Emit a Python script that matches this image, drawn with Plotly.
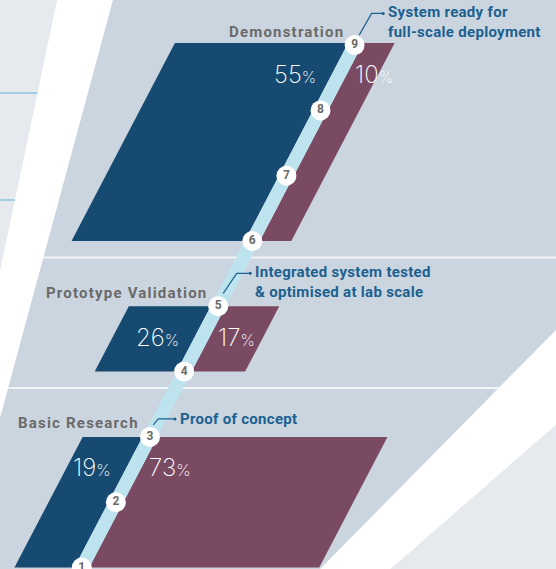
import plotly.graph_objects as go

# dane
stages = ["Basic Research", "Prototype Validation", "Demonstration"]
trl_start = [1, 4, 6]
trl_end = [3, 5, 9]
blue_pct = [19, 26, 55]
maroon_pct = [73, 17, 10]
trl_levels = [1, 2, 3, 4, 5, 6, 7, 8, 9]
milestone_trl = [3, 5, 9]
milestone_text = ["Proof of concept",
                  "Integrated system tested<br>& optimised at lab scale",
                  "System ready for<br>full-scale deployment"]

W, H = 556, 569
PANEL = "#cbd5df"
LIGHT = "#e6eaee"
BLUE = "#164a70"
MAROON = "#7a4a62"
BAND = "#bde3ef"
TXT_BLUE = "#1b6190"
GREY = "#6a6a6a"

PX_PER_PCT = 3.15
HALF_BAND = 7.5
SLOPE = 0.5222  # przesuniecie x na piksel w gore


def trl_y(k):
    return 567.5 - (k - 1) * 65.3


def band_x(y):
    return 81.8 + (567.5 - y) * SLOPE


fig = go.Figure()

# tlo
shapes = [
    dict(type="path", path="M0,0 L57,0 L0,270 Z", fillcolor=LIGHT, line_width=0, layer="below"),
    dict(type="path", path="M57,0 L113,0 L0,418 L0,270 Z", fillcolor="white", line_width=0, layer="below"),
    dict(type="path", path="M556,330 L320,569 L391,569 L556,425 Z", fillcolor="white", line_width=0, layer="below"),
    dict(type="path", path="M556,425 L391,569 L556,569 Z", fillcolor=LIGHT, line_width=0, layer="below"),
    dict(type="line", x0=0, x1=57 - 0.211 * 93, y0=93, y1=93, line=dict(color="#8dc5dc", width=1.5), layer="below"),
    dict(type="line", x0=0, x1=57 - 0.211 * 200, y0=200, y1=200, line=dict(color="#8dc5dc", width=1.5), layer="below"),
]
for k in trl_start[1:]:
    ys = trl_y(k) + 16.5
    x_left = 113 - 0.27 * ys
    x_right = min(556, 556 - (ys - 330) * 0.9874)
    shapes.append(dict(type="line", x0=x_left, x1=x_right, y0=ys, y1=ys,
                       line=dict(color="#f2f5f8", width=2), layer="below"))

annotations = []

# rownolegloboki etapow
for name, a, b, bp, mp in zip(stages, trl_start, trl_end, blue_pct, maroon_pct):
    yb, yt = trl_y(a), trl_y(b)
    if b == 9:
        yt -= 2
    wb = bp * PX_PER_PCT
    wm = mp * PX_PER_PCT
    xs_b = [band_x(yb) - HALF_BAND - wb, band_x(yb) - HALF_BAND, band_x(yt) - HALF_BAND, band_x(yt) - HALF_BAND - wb]
    xs_m = [band_x(yb) + HALF_BAND, band_x(yb) + HALF_BAND + wm, band_x(yt) + HALF_BAND + wm, band_x(yt) + HALF_BAND]
    ys = [yb, yb, yt, yt]
    fig.add_trace(go.Scatter(x=xs_b + [xs_b[0]], y=ys + [ys[0]], fill="toself", fillcolor=BLUE,
                             mode="lines", line=dict(width=0), hoverinfo="skip"))
    fig.add_trace(go.Scatter(x=xs_m + [xs_m[0]], y=ys + [ys[0]], fill="toself", fillcolor=MAROON,
                             mode="lines", line=dict(width=0), hoverinfo="skip"))

    ly = yt + 31
    pct_font = dict(family="Inter", size=24, color="white", weight=200)
    annotations.append(dict(x=band_x(ly) - HALF_BAND - 14, y=ly, xanchor="right", yanchor="middle",
                            text=f"{bp}<span style='font-size:16px'>%</span>", showarrow=False, font=pct_font))
    annotations.append(dict(x=band_x(ly) + HALF_BAND + 6, y=ly, xanchor="left", yanchor="middle",
                            text=f"{mp}<span style='font-size:16px'>%</span>", showarrow=False, font=pct_font))

    ty = trl_y(b) - 13.5
    annotations.append(dict(x=band_x(ty) - 16, y=ty, xanchor="right", yanchor="middle",
                            text=f"<span style='letter-spacing:1.2px'>{name}</span>", showarrow=False,
                            font=dict(family="Roboto", size=15, color=GREY, weight="bold")))

# pasmo TRL
y_lo, y_hi = 580, trl_y(9)
fig.add_trace(go.Scatter(
    x=[band_x(y_lo) - HALF_BAND, band_x(y_lo) + HALF_BAND, band_x(y_hi) + HALF_BAND, band_x(y_hi) - HALF_BAND, band_x(y_lo) - HALF_BAND],
    y=[y_lo, y_lo, y_hi, y_hi, y_lo], fill="toself", fillcolor=BAND, mode="lines", line=dict(width=0), hoverinfo="skip"))

# odnosniki
leader_offsets = {3: [(3.3, -12), (8.3, -18), (25, -18)],
                  5: [(5, -13), (18.5, -33), (32, -33)],
                  9: [(4.6, -10), (17, -31.7), (28.6, -31.7)]}
for k, txt in zip(milestone_trl, milestone_text):
    cx, cy = band_x(trl_y(k)), trl_y(k)
    pts = [(cx + dx, cy + dy) for dx, dy in leader_offsets[k]]
    fig.add_trace(go.Scatter(x=[p[0] for p in pts], y=[p[1] for p in pts], mode="lines",
                             line=dict(color=TXT_BLUE, width=1.2), hoverinfo="skip"))
    fig.add_trace(go.Scatter(x=[pts[-1][0]], y=[pts[-1][1]], mode="markers",
                             marker=dict(color=TXT_BLUE, size=3), hoverinfo="skip"))
    nlines = txt.count("<br>") + 1
    lines = txt.split("<br>")
    txt_sp = "<br>".join(f"<span style='letter-spacing:0.3px'>{ln}</span>" for ln in lines)
    annotations.append(dict(x=pts[-1][0] + 3, y=pts[-1][1] + 8.5 * (nlines - 1), xanchor="left", yanchor="middle",
                            text=txt_sp, align="left", showarrow=False,
                            font=dict(family="Roboto", size=15, color=TXT_BLUE, weight="bold")))

# kolka TRL
fig.add_trace(go.Scatter(
    x=[band_x(trl_y(k)) for k in trl_levels], y=[trl_y(k) for k in trl_levels],
    mode="markers+text", text=[str(k) for k in trl_levels], textposition="middle center",
    marker=dict(color="white", size=20, line=dict(width=0)),
    textfont=dict(family="Roboto", size=12, color=GREY, weight="bold"), hoverinfo="skip"))

fig.update_layout(
    width=W, height=H, margin=dict(l=0, r=0, t=0, b=0),
    paper_bgcolor=PANEL, plot_bgcolor=PANEL, showlegend=False,
    shapes=shapes, annotations=annotations,
    xaxis=dict(range=[0, W], visible=False, fixedrange=True),
    yaxis=dict(range=[H, 0], visible=False, fixedrange=True),
)
fig.write_html("out.html", config={"displayModeBar": False},
               post_script="document.body.style.margin='0';document.body.style.overflow='hidden';")
